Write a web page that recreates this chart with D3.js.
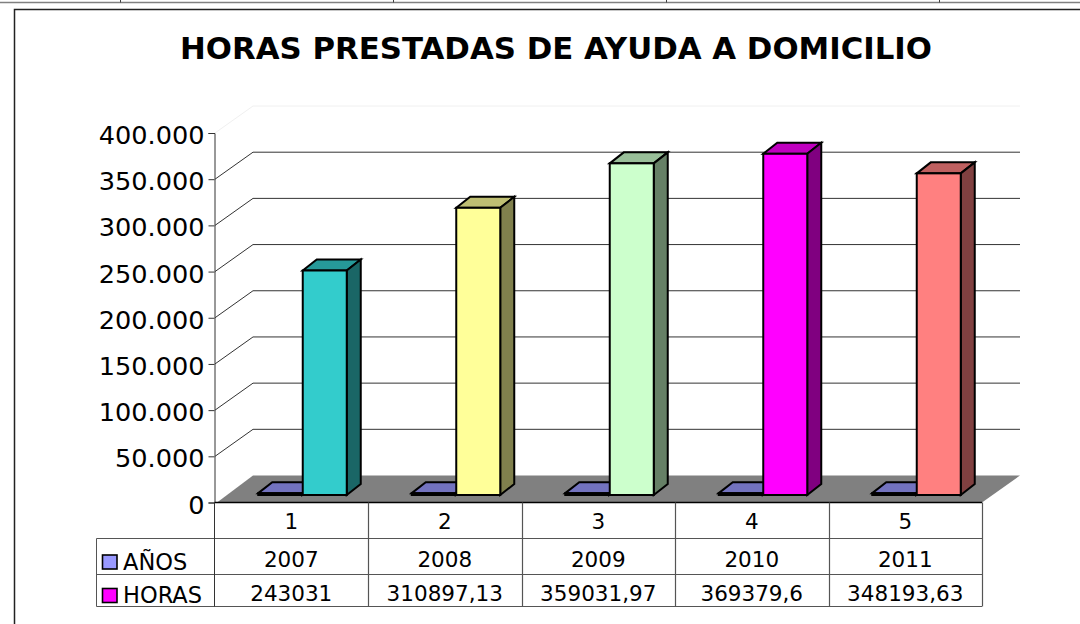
<!DOCTYPE html>
<meta charset="utf-8">
<head>
    <style>
        body { margin: 0; background: #fff; }
        svg { display: block; }
        text { font-family: "DejaVu Sans", Verdana, sans-serif; fill: #000; }
    </style>
    <script src="https://d3js.org/d3.v7.min.js"></script>
</head>
<body>
<script>

    var categories = ["1", "2", "3", "4", "5"];
    var anos = [2007, 2008, 2009, 2010, 2011];
    var horas = [243031, 310897.13, 359031.97, 369379.6, 348193.63];
    var anosLabels = ["2007", "2008", "2009", "2010", "2011"];
    var horasLabels = ["243031", "310897,13", "359031,97", "369379,6", "348193,63"];
    var yTicks = [0, 50000, 100000, 150000, 200000, 250000, 300000, 350000, 400000];
    var horasColors = ["#33CCCC", "#FFFF99", "#CCFFCC", "#FF00FF", "#FF8080"];
    var anosColor = "#9999FF";
    var topCells = [120.5, 393.5, 666.5, 939.5];

    var width = 1080, height = 624;

    var svg = d3.select("body").append("svg")
        .attr("width", width)
        .attr("height", height);

    var y = d3.scaleLinear().domain([0, 400000]).range([502.5, 133]);
    var x = d3.scaleBand().domain(categories).range([214.5, 982]);

    // 3d offsets
    var wallDx = 38, wallDy = -27;
    var barDx = 14, barDy = -11, baseDy = -7.5;
    var barW = 44;

    function scaleColor(c, k) {
        var r = d3.rgb(c);
        return d3.rgb(r.r * k, r.g * k, r.b * k).formatHex();
    }

    // page furniture: the table cut off at the top and the frame
    svg.append("line").attr("x1", 0).attr("x2", width).attr("y1", 2.5).attr("y2", 2.5)
        .attr("stroke", "#808080").attr("stroke-width", 1.5);
    svg.selectAll(".topcell").data(topCells).enter().append("line")
        .attr("x1", function (d) { return d; }).attr("x2", function (d) { return d; })
        .attr("y1", 0).attr("y2", 2.5).attr("stroke", "#404040");
    svg.append("path")
        .attr("d", "M14.5," + height + "V9.5H" + width)
        .attr("fill", "none").attr("stroke", "#222").attr("stroke-width", 1.5);

    svg.append("text")
        .attr("x", 556).attr("y", 59)
        .attr("text-anchor", "middle")
        .attr("font-size", 30.8).attr("font-weight", "bold")
        .text("HORAS PRESTADAS DE AYUDA A DOMICILIO");

    // floor
    var x0 = y(0);
    svg.append("path")
        .attr("d", "M" + [217, x0] + "L" + [253, x0 + wallDy] + "L" + [1020, x0 + wallDy] + "L" + [982, x0] + "Z")
        .attr("fill", "#808080");

    // gridlines on the walls
    svg.selectAll(".grid").data(yTicks.slice(1)).enter().append("path")
        .attr("class", "grid")
        .attr("d", function (d) {
            return "M" + [215, y(d)] + "L" + [215 + wallDx, y(d) + wallDy] + "H1020";
        })
        .attr("fill", "none")
        .attr("stroke", function (d) { return d === 400000 ? "#f0f0f0" : "#333"; })
        .attr("stroke-width", 1);

    function drawBar(g, left, value, col) {
        var bottom = y(0) + baseDy;
        var top = y(value) + baseDy;
        var right = left + barW;
        g.append("path")
            .attr("d", "M" + [left, top] + "L" + [left + barDx, top + barDy] + "H" + (right + barDx) + "L" + [right, top] + "Z")
            .attr("fill", scaleColor(col, 0.75));
        g.append("path")
            .attr("d", "M" + [right, top] + "L" + [right + barDx, top + barDy] + "V" + (bottom + barDy) + "L" + [right, bottom] + "Z")
            .attr("fill", scaleColor(col, 0.5));
        g.append("rect")
            .attr("x", left).attr("y", top)
            .attr("width", barW).attr("height", bottom - top)
            .attr("fill", col);
        g.selectAll("path,rect")
            .attr("stroke", "#000").attr("stroke-width", 2).attr("stroke-linejoin", "miter");
    }

    // AÑOS series: barely a sliver next to the hours
    categories.forEach(function (c, i) {
        drawBar(svg.append("g"), x(c) + 43.75, anos[i], anosColor);
    });
    categories.forEach(function (c, i) {
        drawBar(svg.append("g"), x(c) + 88.25, horas[i], horasColors[i]);
    });

    // y axis
    var esLocale = d3.formatLocale({decimal: ",", thousands: ".", grouping: [3], currency: ["", ""]});
    var yAxis = d3.axisLeft(y).tickValues(yTicks).tickFormat(esLocale.format(",")).tickSize(6).tickPadding(4);
    var axisG = svg.append("g").attr("transform", "translate(214.5,0)").call(yAxis);
    axisG.selectAll("text").attr("font-size", 25.6).attr("dy", "0.41em");
    axisG.selectAll("line").attr("stroke", "#333");
    axisG.select(".domain").attr("stroke", "#333");

    // data table
    var rows = [502.5, 538.5, 574.5, 606.5];
    var tableColor = "#555";
    svg.append("line").attr("x1", 214.5).attr("x2", 982).attr("y1", rows[0]).attr("y2", rows[0])
        .attr("stroke", "#000").attr("stroke-width", 1.4);
    svg.selectAll(".hline").data(rows.slice(1)).enter().append("line")
        .attr("x1", 96.5).attr("x2", 982)
        .attr("y1", function (d) { return d; }).attr("y2", function (d) { return d; })
        .attr("stroke", tableColor).attr("stroke-width", 1.2);
    svg.append("line").attr("x1", 96.5).attr("x2", 96.5).attr("y1", rows[1]).attr("y2", rows[3]).attr("stroke", tableColor);
    svg.append("line").attr("x1", 214.5).attr("x2", 214.5).attr("y1", rows[0]).attr("y2", rows[3]).attr("stroke", "#333");
    svg.selectAll(".vline").data(categories).enter().append("line")
        .attr("x1", function (d) { return Math.round(x(d) + x.bandwidth()) + 0.5; })
        .attr("x2", function (d) { return Math.round(x(d) + x.bandwidth()) + 0.5; })
        .attr("y1", rows[0]).attr("y2", rows[3])
        .attr("stroke", tableColor).attr("stroke-width", 1.2);

    function tableRow(labels, baseline) {
        svg.selectAll(null).data(labels).enter().append("text")
            .attr("x", function (d, i) { return x(categories[i]) + x.bandwidth() / 2; })
            .attr("y", baseline)
            .attr("text-anchor", "middle")
            .attr("font-size", 21.5)
            .text(function (d) { return d; });
    }
    tableRow(categories, 529);
    tableRow(anosLabels, 566.5);
    tableRow(horasLabels, 601);

    // legend keys in the table
    var legend = [["AÑOS", anosColor, 555, 569.5], ["HORAS", "#FF00FF", 588.5, 603]];
    legend.forEach(function (l) {
        svg.append("rect").attr("x", 102.5).attr("y", l[2]).attr("width", 14.5).attr("height", 14)
            .attr("fill", l[1]).attr("stroke", "#000").attr("stroke-width", 1.6);
        svg.append("text").attr("x", 123).attr("y", l[3]).attr("font-size", 22.5).text(l[0]);
    });

</script>
</body>
</html>
